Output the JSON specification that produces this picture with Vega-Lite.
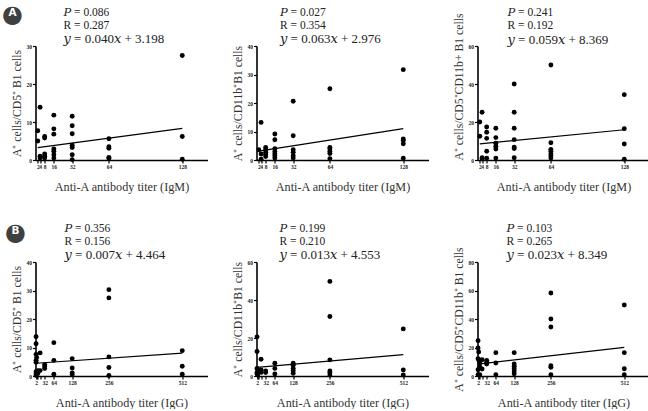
{
  "$schema": "https://vega.github.io/schema/vega-lite/v6.json",
  "padding": {"left": 1.5, "top": 3, "right": 0, "bottom": 0},
  "background": "white",
  "config": {
    "view": {"stroke": null},
    "font": "Liberation Serif",
    "axis": {"grid": false, "domainColor": "#000", "domainWidth": 1.6, "tickColor": "#000", "tickSize": 3, "tickWidth": 1.2, "labelFont": "Liberation Serif", "labelFontSize": 5.5, "labelFontWeight": "bold", "labelColor": "#222", "labelPadding": 1, "labelOverlap": false, "labelBound": false, "labelFlush": false, "titleFont": "Liberation Serif", "titleFontSize": 11.7, "titleFontWeight": "normal", "titleColor": "#333"},
    "axisX": {"titlePadding": 11, "titleFontSize": 12.2},
    "axisY": {"titlePadding": 4},
    "title": {"font": "Liberation Serif, DejaVu Serif", "fontSize": 11.5, "fontWeight": "normal", "color": "#222", "anchor": "start", "frame": "group", "lineHeight": 12.7, "subtitleFont": "Liberation Serif, DejaVu Serif", "subtitleFontSize": 13, "subtitleColor": "#222", "subtitlePadding": 2, "offset": -2.25}
  },
  "spacing": 27,
  "vconcat": [
    {
      "title": {"text": "●", "subtitle": "A", "frame": "bounds", "anchor": "start", "align": "center", "dx": 1.5, "offset": -20, "font": "DejaVu Sans", "fontSize": 24, "lineHeight": 24, "color": "#404040", "subtitleFont": "DejaVu Sans", "subtitleFontSize": 10.5, "subtitleFontWeight": "bold", "subtitleColor": "#ffffff", "subtitlePadding": -19},
      "spacing": 24,
      "hconcat": [
        {
          "width": 172, "height": 114,
          "title": {"text": ["𝑃 = 0.086", "R = 0.287"], "subtitle": "𝑦 = 0.040𝑥 + 3.198", "dx": 28},
          "encoding": {
            "x": {"field": "titer", "type": "quantitative", "scale": {"domain": [0, 150], "nice": false}, "axis": {"values": [2, 4, 8, 16, 32, 64, 128], "title": "Anti-A antibody titer (IgM)"}},
            "y": {"field": "ratio", "type": "quantitative", "scale": {"domain": [0, 30], "nice": false}, "axis": {"values": [0, 10, 20, 30], "title": "A⁺ cells/CD5⁺ B1 cells"}}
          },
          "layer": [
            {"data": {"values": [
              {"titer": 2, "ratio": 7.7}, {"titer": 2, "ratio": 5.0},
              {"titer": 4, "ratio": 13.9}, {"titer": 4, "ratio": 1.0}, {"titer": 4, "ratio": 0.5},
              {"titer": 8, "ratio": 6.2}, {"titer": 8, "ratio": 5.8}, {"titer": 8, "ratio": 1.6}, {"titer": 8, "ratio": 1.0}, {"titer": 8, "ratio": 0.5},
              {"titer": 16, "ratio": 11.8}, {"titer": 16, "ratio": 8.2}, {"titer": 16, "ratio": 6.8}, {"titer": 16, "ratio": 2.9}, {"titer": 16, "ratio": 2.3}, {"titer": 16, "ratio": 1.4}, {"titer": 16, "ratio": 0.5},
              {"titer": 32, "ratio": 11.5}, {"titer": 32, "ratio": 9.0}, {"titer": 32, "ratio": 6.9}, {"titer": 32, "ratio": 3.9}, {"titer": 32, "ratio": 3.3}, {"titer": 32, "ratio": 1.4}, {"titer": 32, "ratio": 0.1},
              {"titer": 64, "ratio": 5.6}, {"titer": 64, "ratio": 3.5}, {"titer": 64, "ratio": 3.1}, {"titer": 64, "ratio": 0.7}, {"titer": 64, "ratio": 0.4},
              {"titer": 128, "ratio": 27.5}, {"titer": 128, "ratio": 6.2}, {"titer": 128, "ratio": 0.2}
            ]}, "mark": {"type": "point", "filled": true, "shape": "circle", "size": 24, "color": "#000", "opacity": 1}},
            {"data": {"values": [{"titer": 2, "ratio": 3.278}, {"titer": 128, "ratio": 8.318}]}, "mark": {"type": "line", "color": "#000", "strokeWidth": 1.2}}
          ]
        },
        {
          "width": 172, "height": 114,
          "title": {"text": ["𝑃 = 0.027", "R = 0.354"], "subtitle": "𝑦 = 0.063𝑥 + 2.976", "dx": 23.5},
          "encoding": {
            "x": {"field": "titer", "type": "quantitative", "scale": {"domain": [0, 150], "nice": false}, "axis": {"values": [2, 4, 8, 16, 32, 64, 128], "title": "Anti-A antibody titer (IgM)"}},
            "y": {"field": "ratio", "type": "quantitative", "scale": {"domain": [0, 40], "nice": false}, "axis": {"values": [0, 10, 20, 30, 40], "title": "A⁺ cells/CD11b⁺B1 cells"}}
          },
          "layer": [
            {"data": {"values": [
              {"titer": 2, "ratio": 3.6},
              {"titer": 4, "ratio": 13.2}, {"titer": 4, "ratio": 2.1}, {"titer": 4, "ratio": 0.3},
              {"titer": 8, "ratio": 4.4}, {"titer": 8, "ratio": 3.6}, {"titer": 8, "ratio": 2.7}, {"titer": 8, "ratio": 1.9}, {"titer": 8, "ratio": 1.2},
              {"titer": 16, "ratio": 9.1}, {"titer": 16, "ratio": 7.1}, {"titer": 16, "ratio": 4.0}, {"titer": 16, "ratio": 3.0}, {"titer": 16, "ratio": 2.2}, {"titer": 16, "ratio": 1.5}, {"titer": 16, "ratio": 0.7},
              {"titer": 32, "ratio": 20.6}, {"titer": 32, "ratio": 8.5}, {"titer": 32, "ratio": 3.6}, {"titer": 32, "ratio": 2.7}, {"titer": 32, "ratio": 1.5}, {"titer": 32, "ratio": 0.7},
              {"titer": 64, "ratio": 25.0}, {"titer": 64, "ratio": 4.4}, {"titer": 64, "ratio": 3.9}, {"titer": 64, "ratio": 3.0}, {"titer": 64, "ratio": 2.3}, {"titer": 64, "ratio": 0.5},
              {"titer": 128, "ratio": 31.7}, {"titer": 128, "ratio": 7.4}, {"titer": 128, "ratio": 6.8}, {"titer": 128, "ratio": 5.7}, {"titer": 128, "ratio": 0.6}
            ]}, "mark": {"type": "point", "filled": true, "shape": "circle", "size": 24, "color": "#000", "opacity": 1}},
            {"data": {"values": [{"titer": 2, "ratio": 3.102}, {"titer": 128, "ratio": 11.04}]}, "mark": {"type": "line", "color": "#000", "strokeWidth": 1.2}}
          ]
        },
        {
          "width": 172, "height": 114,
          "title": {"text": ["𝑃 = 0.241", "R = 0.192"], "subtitle": "𝑦 = 0.059𝑥 + 8.369", "dx": 30, "offset": -33.5},
          "encoding": {
            "x": {"field": "titer", "type": "quantitative", "scale": {"domain": [0, 150], "nice": false}, "axis": {"values": [2, 4, 8, 16, 32, 64, 128], "title": "Anti-A antibody titer (IgM)"}},
            "y": {"field": "ratio", "type": "quantitative", "scale": {"domain": [0, 60], "nice": false}, "axis": {"values": [0, 20, 40, 60], "title": "A⁺ cells/CD5⁺CD11b+ B1 cells", "titleAnchor": "start"}}
          },
          "layer": [
            {"data": {"values": [
              {"titer": 2, "ratio": 20.0}, {"titer": 2, "ratio": 12.5},
              {"titer": 4, "ratio": 25.1}, {"titer": 4, "ratio": 1.2}, {"titer": 4, "ratio": 0.6},
              {"titer": 8, "ratio": 17.4}, {"titer": 8, "ratio": 14.6}, {"titer": 8, "ratio": 11.4}, {"titer": 8, "ratio": 4.6}, {"titer": 8, "ratio": 0.9},
              {"titer": 16, "ratio": 16.7}, {"titer": 16, "ratio": 11.8}, {"titer": 16, "ratio": 8.8}, {"titer": 16, "ratio": 7.2}, {"titer": 16, "ratio": 5.8}, {"titer": 16, "ratio": 1.0},
              {"titer": 32, "ratio": 40.0}, {"titer": 32, "ratio": 25.1}, {"titer": 32, "ratio": 16.7}, {"titer": 32, "ratio": 10.7}, {"titer": 32, "ratio": 6.8}, {"titer": 32, "ratio": 6.0}, {"titer": 32, "ratio": 1.2},
              {"titer": 64, "ratio": 50.0}, {"titer": 64, "ratio": 9.1}, {"titer": 64, "ratio": 5.6}, {"titer": 64, "ratio": 4.6}, {"titer": 64, "ratio": 3.3}, {"titer": 64, "ratio": 2.3}, {"titer": 64, "ratio": 1.1},
              {"titer": 128, "ratio": 34.4}, {"titer": 128, "ratio": 16.5}, {"titer": 128, "ratio": 8.4}, {"titer": 128, "ratio": 0.4}
            ]}, "mark": {"type": "point", "filled": true, "shape": "circle", "size": 24, "color": "#000", "opacity": 1}},
            {"data": {"values": [{"titer": 2, "ratio": 8.487}, {"titer": 128, "ratio": 15.921}]}, "mark": {"type": "line", "color": "#000", "strokeWidth": 1.2}}
          ]
        }
      ]
    },
    {
      "title": {"text": "●", "subtitle": "B", "frame": "bounds", "anchor": "start", "align": "center", "dx": 4.5, "offset": -21.5, "font": "DejaVu Sans", "fontSize": 24, "lineHeight": 24, "color": "#404040", "subtitleFont": "DejaVu Sans", "subtitleFontSize": 10.5, "subtitleFontWeight": "bold", "subtitleColor": "#ffffff", "subtitlePadding": -19},
      "spacing": 24,
      "hconcat": [
        {
          "width": 172, "height": 114,
          "title": {"text": ["𝑃 = 0.356", "R = 0.156"], "subtitle": "𝑦 = 0.007𝑥 + 4.464", "dx": 29},
          "encoding": {
            "x": {"field": "titer", "type": "quantitative", "scale": {"domain": [0, 600], "nice": false}, "axis": {"values": [2, 4, 8, 16, 32, 64, 128, 256, 512], "labelExpr": "datum.value == 4 || datum.value == 8 || datum.value == 16 ? '' : datum.label", "title": "Anti-A antibody titer (IgG)"}},
            "y": {"field": "ratio", "type": "quantitative", "scale": {"domain": [0, 40], "nice": false}, "axis": {"values": [0, 10, 20, 30, 40], "title": "A⁺ cells/CD5⁺ B1 cells"}}
          },
          "layer": [
            {"data": {"values": [
              {"titer": 2, "ratio": 13.8}, {"titer": 2, "ratio": 11.3}, {"titer": 2, "ratio": 7.6}, {"titer": 2, "ratio": 5.5}, {"titer": 2, "ratio": 4.8}, {"titer": 2, "ratio": 1.5}, {"titer": 2, "ratio": 0.8}, {"titer": 2, "ratio": 0.2},
              {"titer": 4, "ratio": 6.5}, {"titer": 4, "ratio": 1.4},
              {"titer": 8, "ratio": 1.9}, {"titer": 8, "ratio": 0.9},
              {"titer": 16, "ratio": 8.1}, {"titer": 16, "ratio": 1.9},
              {"titer": 32, "ratio": 4.0}, {"titer": 32, "ratio": 3.3}, {"titer": 32, "ratio": 2.6},
              {"titer": 64, "ratio": 11.7}, {"titer": 64, "ratio": 5.5}, {"titer": 64, "ratio": 0.6},
              {"titer": 128, "ratio": 6.1}, {"titer": 128, "ratio": 2.8}, {"titer": 128, "ratio": 1.1}, {"titer": 128, "ratio": 0.5},
              {"titer": 256, "ratio": 30.3}, {"titer": 256, "ratio": 27.4}, {"titer": 256, "ratio": 6.7}, {"titer": 256, "ratio": 3.0}, {"titer": 256, "ratio": 0.2},
              {"titer": 512, "ratio": 8.9}, {"titer": 512, "ratio": 3.4}, {"titer": 512, "ratio": 0.6}
            ]}, "mark": {"type": "point", "filled": true, "shape": "circle", "size": 24, "color": "#000", "opacity": 1}},
            {"data": {"values": [{"titer": 2, "ratio": 4.478}, {"titer": 512, "ratio": 8.048}]}, "mark": {"type": "line", "color": "#000", "strokeWidth": 1.2}}
          ]
        },
        {
          "width": 172, "height": 114,
          "title": {"text": ["𝑃 = 0.199", "R = 0.210"], "subtitle": "𝑦 = 0.013𝑥 + 4.553", "dx": 23},
          "encoding": {
            "x": {"field": "titer", "type": "quantitative", "scale": {"domain": [0, 600], "nice": false}, "axis": {"values": [2, 4, 8, 16, 32, 64, 128, 256, 512], "labelExpr": "datum.value == 4 || datum.value == 8 || datum.value == 16 ? '' : datum.label", "title": "Anti-A antibody titer (IgG)"}},
            "y": {"field": "ratio", "type": "quantitative", "scale": {"domain": [0, 60], "nice": false}, "axis": {"values": [0, 20, 40, 60], "title": "A⁺ cells/CD11b⁺B1 cells"}}
          },
          "layer": [
            {"data": {"values": [
              {"titer": 2, "ratio": 20.6}, {"titer": 2, "ratio": 12.9}, {"titer": 2, "ratio": 4.0}, {"titer": 2, "ratio": 1.8}, {"titer": 2, "ratio": 1.1},
              {"titer": 4, "ratio": 3.2}, {"titer": 4, "ratio": 0.5},
              {"titer": 8, "ratio": 2.5},
              {"titer": 16, "ratio": 8.8}, {"titer": 16, "ratio": 3.2}, {"titer": 16, "ratio": 1.9},
              {"titer": 32, "ratio": 2.6}, {"titer": 32, "ratio": 1.8},
              {"titer": 64, "ratio": 6.7}, {"titer": 64, "ratio": 4.0}, {"titer": 64, "ratio": 1.1},
              {"titer": 128, "ratio": 6.7}, {"titer": 128, "ratio": 5.6}, {"titer": 128, "ratio": 4.0}, {"titer": 128, "ratio": 2.8}, {"titer": 128, "ratio": 1.4},
              {"titer": 256, "ratio": 49.8}, {"titer": 256, "ratio": 31.3}, {"titer": 256, "ratio": 8.5}, {"titer": 256, "ratio": 2.6}, {"titer": 256, "ratio": 1.8}, {"titer": 256, "ratio": 0.5},
              {"titer": 512, "ratio": 24.8}, {"titer": 512, "ratio": 3.2}, {"titer": 512, "ratio": 0.5}
            ]}, "mark": {"type": "point", "filled": true, "shape": "circle", "size": 24, "color": "#000", "opacity": 1}},
            {"data": {"values": [{"titer": 2, "ratio": 4.579}, {"titer": 512, "ratio": 11.209}]}, "mark": {"type": "line", "color": "#000", "strokeWidth": 1.2}}
          ]
        },
        {
          "width": 172, "height": 114,
          "title": {"text": ["𝑃 = 0.103", "R = 0.265"], "subtitle": "𝑦 = 0.023𝑥 + 8.349", "dx": 29, "offset": -15.5},
          "encoding": {
            "x": {"field": "titer", "type": "quantitative", "scale": {"domain": [0, 600], "nice": false}, "axis": {"values": [2, 4, 8, 16, 32, 64, 128, 256, 512], "labelExpr": "datum.value == 4 || datum.value == 8 || datum.value == 16 ? '' : datum.label", "title": "Anti-A antibody titer (IgG)"}},
            "y": {"field": "ratio", "type": "quantitative", "scale": {"domain": [0, 80], "nice": false}, "axis": {"values": [0, 20, 40, 60, 80], "title": "A⁺ cells/CD5⁺CD11b⁺ B1 cells"}}
          },
          "layer": [
            {"data": {"values": [
              {"titer": 2, "ratio": 24.8}, {"titer": 2, "ratio": 19.6}, {"titer": 2, "ratio": 12.1}, {"titer": 2, "ratio": 4.4}, {"titer": 2, "ratio": 0.9},
              {"titer": 4, "ratio": 16.8}, {"titer": 4, "ratio": 11.4},
              {"titer": 8, "ratio": 8.9}, {"titer": 8, "ratio": 6.3}, {"titer": 8, "ratio": 0.9},
              {"titer": 16, "ratio": 11.4}, {"titer": 16, "ratio": 4.9},
              {"titer": 32, "ratio": 11.0}, {"titer": 32, "ratio": 9.6}, {"titer": 32, "ratio": 8.4},
              {"titer": 64, "ratio": 16.4}, {"titer": 64, "ratio": 9.1}, {"titer": 64, "ratio": 0.9},
              {"titer": 128, "ratio": 16.4}, {"titer": 128, "ratio": 8.4}, {"titer": 128, "ratio": 6.8}, {"titer": 128, "ratio": 5.1}, {"titer": 128, "ratio": 3.5}, {"titer": 128, "ratio": 1.6},
              {"titer": 256, "ratio": 58.2}, {"titer": 256, "ratio": 40.0}, {"titer": 256, "ratio": 34.4}, {"titer": 256, "ratio": 7.2}, {"titer": 256, "ratio": 6.1}, {"titer": 256, "ratio": 0.9},
              {"titer": 512, "ratio": 49.8}, {"titer": 512, "ratio": 16.4}, {"titer": 512, "ratio": 5.1}, {"titer": 512, "ratio": 0.9}
            ]}, "mark": {"type": "point", "filled": true, "shape": "circle", "size": 24, "color": "#000", "opacity": 1}},
            {"data": {"values": [{"titer": 2, "ratio": 8.395}, {"titer": 512, "ratio": 20.125}]}, "mark": {"type": "line", "color": "#000", "strokeWidth": 1.2}}
          ]
        }
      ]
    }
  ]
}
